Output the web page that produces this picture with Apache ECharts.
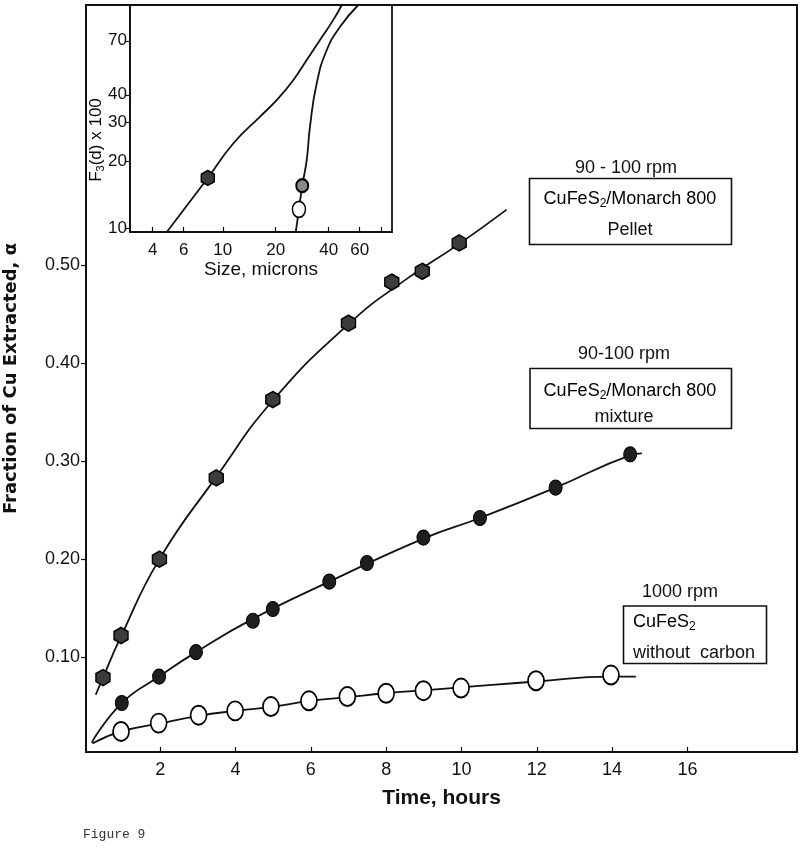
<!DOCTYPE html>
<html><head><meta charset="utf-8">
<script src="https://cdn.jsdelivr.net/npm/echarts@6/dist/echarts.min.js"></script>
<style>html,body{margin:0;padding:0;background:#fff}#c{width:800px;height:850px}</style>
</head><body><div id="c"></div>
<script>
// ---------- Main chart data (Time, hours vs Fraction of Cu extracted) ----------
const pelletTime = [0.48, 0.96, 1.98, 3.49, 4.99, 7.0, 8.15, 8.96, 9.94];
const pelletFrac = [0.079, 0.122, 0.200, 0.283, 0.363, 0.441, 0.483, 0.494, 0.523];
const pelletCurveTime = [0.29, 0.48, 0.96, 1.98, 3.49, 4.99, 7.0, 8.5, 9.94, 11.2];
const pelletCurveFrac = [0.0615, 0.079, 0.121, 0.200, 0.284, 0.362, 0.440, 0.485, 0.522, 0.557];

const mixTime = [0.98, 1.97, 2.95, 4.46, 4.99, 6.49, 7.49, 8.99, 10.49, 12.5, 14.48];
const mixFrac = [0.053, 0.080, 0.105, 0.137, 0.149, 0.177, 0.196, 0.222, 0.242, 0.273, 0.307];
const mixCurveTime = [0.18, 0.98, 1.97, 2.95, 4.46, 6.49, 8.99, 10.49, 12.5, 14.48, 14.79];
const mixCurveFrac = [0.0126, 0.053, 0.080, 0.105, 0.139, 0.177, 0.221, 0.242, 0.273, 0.306, 0.308];

const noCarbonTime = [0.96, 1.96, 3.02, 3.99, 4.94, 5.95, 6.97, 8.0, 8.99, 9.99, 11.98, 13.97];
const noCarbonFrac = [0.024, 0.0325, 0.0406, 0.045, 0.0494, 0.0553, 0.0596, 0.063, 0.0656, 0.0683, 0.0758, 0.0816];
const noCarbonCurveTime = [0.2, 0.96, 1.96, 3.02, 3.99, 4.94, 5.95, 6.97, 8.0, 8.99, 9.99, 11.98, 13.97, 14.63];
const noCarbonCurveFrac = [0.0116, 0.024, 0.032, 0.040, 0.045, 0.049, 0.055, 0.059, 0.063, 0.066, 0.069, 0.075, 0.080, 0.080];

const mainXTicks = [2, 4, 6, 8, 10, 12, 14, 16];
const mainYTicks = [0.10, 0.20, 0.30, 0.40, 0.50];

// ---------- Inset data (Size, microns vs F3(d) x 100, log scales) ----------
const insetPelletCurveSize = [4.81, 8.22, 11.5, 16.3, 20.3, 25.2, 30.0, 35.7, 42.5, 47.5];
const insetPelletCurveF = [9.65, 16.9, 24.2, 31.9, 37.9, 46.6, 57.4, 70.6, 86.9, 101.4];
const insetMixCurveSize = [26.0, 27.1, 28.3, 30.0, 31.3, 34.2, 39.0, 46.4, 58.9];
const insetMixCurveF = [9.65, 12.2, 15.6, 20.3, 28.7, 45.0, 63.6, 80.9, 101.4];
const insetPelletPoint = [[8.22, 16.9]];
const insetMixPoint = [[28.3, 15.6]];
const insetNoCarbonPoint = [[27.1, 12.2]];
const insetXTicks = [4, 6, 10, 20, 40, 60, 80];
const insetXLabels = [4, 6, 10, 20, 40, 60];
const insetYTicks = [10, 20, 30, 40, 70];

// ---------- helpers ----------
const lg = v => Math.log10(v);
const zip = (a, b) => a.map((v, i) => [v, b[i]]);
const zipLog = (a, b) => a.map((v, i) => [lg(v), lg(b[i])]);
const ptsLog = arr => arr.map(p => [lg(p[0]), lg(p[1])]);

const FONT = '"Liberation Sans", Arial, Helvetica, sans-serif';
const NARROW = '"Liberation Sans Narrow", "Liberation Sans", Arial, sans-serif';
const INK = '#111';
const HEX = 'path://M0,-10L8.66,-5L8.66,5L0,10L-8.66,5L-8.66,-5Z';

const richSub = {
  n: {fontSize: 18, fontFamily: FONT, color: INK, lineHeight: 22},
  s: {fontSize: 12, fontFamily: FONT, color: INK, lineHeight: 22, verticalAlign: 'bottom'}
};

const curveStyle = {smooth: 0.5, symbol: 'none', lineStyle: {color: INK, width: 1.8}};

const chart = echarts.init(document.getElementById('c'));
const option = {
  animation: false,
  backgroundColor: '#fff',
  grid: [
    {left: 86, right: 3, top: 5, bottom: 98, containLabel: false, outerBoundsMode: 'none',
      show: true, borderColor: INK, borderWidth: 2, z: 0},
    {left: 130, top: 5, width: 262, height: 227, containLabel: false, outerBoundsMode: 'none',
      show: true, backgroundColor: '#fff', borderColor: INK, borderWidth: 1.8, z: 5}
  ],
  xAxis: [
    {
      gridIndex: 0, type: 'value', min: 0.03, max: 18.91,
      splitLine: {show: false},
      axisLine: {lineStyle: {color: INK, width: 2}},
      axisTick: {inside: true, length: 5, customValues: mainXTicks, lineStyle: {color: INK, width: 1.2}},
      axisLabel: {customValues: mainXTicks, margin: 9, fontSize: 18, color: INK, fontFamily: FONT},
      name: 'Time, hours', nameLocation: 'middle', nameGap: 36,
      nameTextStyle: {fontSize: 21, fontWeight: 'bold', color: INK, fontFamily: NARROW}
    },
    {
      gridIndex: 1, type: 'value', min: lg(2.97), max: lg(91.6), z: 6,
      splitLine: {show: false},
      axisLine: {lineStyle: {color: INK, width: 1.8}},
      axisTick: {inside: true, length: 5, customValues: insetXTicks.map(lg), lineStyle: {color: INK, width: 1.2}},
      axisLabel: {customValues: insetXLabels.map(lg), margin: 10, fontSize: 17, color: INK, fontFamily: FONT,
        formatter: v => String(Math.round(Math.pow(10, v)))},
      name: 'Size, microns', nameLocation: 'middle', nameGap: 25,
      nameTextStyle: {fontSize: 19, color: INK, fontFamily: FONT}
    }
  ],
  yAxis: [
    {
      gridIndex: 0, type: 'value', min: 0.003, max: 0.766,
      splitLine: {show: false},
      axisLine: {lineStyle: {color: INK, width: 2}},
      axisTick: {inside: false, length: 5, customValues: mainYTicks, lineStyle: {color: INK, width: 1.2}},
      axisLabel: {customValues: mainYTicks, margin: 6, fontSize: 18, color: INK, fontFamily: FONT,
        formatter: v => v.toFixed(2)},
      name: 'Fraction of Cu Extracted, α', nameLocation: 'middle', nameGap: 66,
      nameTextStyle: {fontSize: 18, fontWeight: 'bold', color: INK, fontFamily: '"DejaVu Sans", sans-serif'}
    },
    {
      gridIndex: 1, type: 'value', min: lg(9.65), max: lg(101.4), z: 6,
      splitLine: {show: false},
      axisLine: {lineStyle: {color: INK, width: 1.8}},
      axisTick: {inside: false, length: 5, customValues: insetYTicks.map(lg), lineStyle: {color: INK, width: 1.2}},
      axisLabel: {customValues: insetYTicks.map(lg), margin: 3, fontSize: 17, color: INK, fontFamily: FONT,
        formatter: v => String(Math.round(Math.pow(10, v)))}
    }
  ],
  series: [
    Object.assign({type: 'line', xAxisIndex: 0, yAxisIndex: 0, data: zip(pelletCurveTime, pelletCurveFrac), z: 2}, curveStyle),
    {type: 'scatter', xAxisIndex: 0, yAxisIndex: 0, data: zip(pelletTime, pelletFrac), symbol: HEX, symbolSize: [14, 16],
      itemStyle: {color: '#3c3c3c', borderColor: '#000', borderWidth: 1.5, opacity: 1}, z: 3},
    Object.assign({type: 'line', xAxisIndex: 0, yAxisIndex: 0, data: zip(mixCurveTime, mixCurveFrac), z: 2}, curveStyle),
    {type: 'scatter', xAxisIndex: 0, yAxisIndex: 0, data: zip(mixTime, mixFrac), symbol: 'circle', symbolSize: [13, 15],
      itemStyle: {color: '#1e1e1e', borderColor: '#000', borderWidth: 1, opacity: 1}, z: 3},
    Object.assign({type: 'line', xAxisIndex: 0, yAxisIndex: 0, data: zip(noCarbonCurveTime, noCarbonCurveFrac), z: 2}, curveStyle),
    {type: 'scatter', xAxisIndex: 0, yAxisIndex: 0, data: zip(noCarbonTime, noCarbonFrac), symbol: 'circle', symbolSize: [16, 19],
      itemStyle: {color: '#fff', borderColor: '#000', borderWidth: 1.8, opacity: 1}, z: 3},
    // inset
    Object.assign({type: 'line', xAxisIndex: 1, yAxisIndex: 1, data: zipLog(insetPelletCurveSize, insetPelletCurveF), z: 7, clip: true}, curveStyle),
    Object.assign({type: 'line', xAxisIndex: 1, yAxisIndex: 1, data: zipLog(insetMixCurveSize, insetMixCurveF), z: 7, clip: true}, curveStyle),
    {type: 'scatter', xAxisIndex: 1, yAxisIndex: 1, data: ptsLog(insetPelletPoint), symbol: HEX, symbolSize: [13, 15],
      itemStyle: {color: '#3c3c3c', borderColor: '#000', borderWidth: 1.5, opacity: 1}, z: 8},
    {type: 'scatter', xAxisIndex: 1, yAxisIndex: 1, data: ptsLog(insetMixPoint), symbol: 'circle', symbolSize: [12, 13],
      itemStyle: {color: '#8a8a8a', borderColor: '#000', borderWidth: 2, opacity: 1}, z: 8},
    {type: 'scatter', xAxisIndex: 1, yAxisIndex: 1, data: ptsLog(insetNoCarbonPoint), symbol: 'circle', symbolSize: [13, 16],
      itemStyle: {color: '#fff', borderColor: '#000', borderWidth: 1.6, opacity: 1}, z: 8}
  ],
  graphic: [
    // inset y-axis name
    {type: 'text', x: 96, y: 140, rotation: Math.PI / 2, z: 20,
      style: {text: '{n|F}{s|3}{n|(d) x 100}', rich: {
        n: {fontSize: 17, fontFamily: FONT, color: INK, lineHeight: 20},
        s: {fontSize: 11, fontFamily: FONT, color: INK, lineHeight: 20, verticalAlign: 'bottom'}},
        align: 'center', verticalAlign: 'middle'}},
    // Pellet annotation
    {type: 'text', x: 626, y: 168, z: 20, style: {text: '90 - 100 rpm', fontSize: 18, fontFamily: FONT, fill: INK, align: 'center', verticalAlign: 'middle'}},
    {type: 'rect', z: 20, shape: {x: 529.5, y: 178.5, width: 202, height: 66}, style: {fill: 'none', stroke: INK, lineWidth: 1.6}},
    {type: 'text', x: 630, y: 199, z: 20, style: {text: '{n|CuFeS}{s|2}{n|/Monarch 800}', rich: richSub, align: 'center', verticalAlign: 'middle'}},
    {type: 'text', x: 630, y: 230, z: 20, style: {text: 'Pellet', fontSize: 18, fontFamily: FONT, fill: INK, align: 'center', verticalAlign: 'middle'}},
    // Mixture annotation
    {type: 'text', x: 624, y: 354, z: 20, style: {text: '90-100 rpm', fontSize: 18, fontFamily: FONT, fill: INK, align: 'center', verticalAlign: 'middle'}},
    {type: 'rect', z: 20, shape: {x: 530, y: 368.5, width: 201.5, height: 60}, style: {fill: 'none', stroke: INK, lineWidth: 1.6}},
    {type: 'text', x: 630, y: 391, z: 20, style: {text: '{n|CuFeS}{s|2}{n|/Monarch 800}', rich: richSub, align: 'center', verticalAlign: 'middle'}},
    {type: 'text', x: 624, y: 417, z: 20, style: {text: 'mixture', fontSize: 18, fontFamily: FONT, fill: INK, align: 'center', verticalAlign: 'middle'}},
    // Without carbon annotation
    {type: 'text', x: 680, y: 592, z: 20, style: {text: '1000 rpm', fontSize: 18, fontFamily: FONT, fill: INK, align: 'center', verticalAlign: 'middle'}},
    {type: 'rect', z: 20, shape: {x: 623.5, y: 606, width: 143, height: 57.5}, style: {fill: 'none', stroke: INK, lineWidth: 1.6}},
    {type: 'text', x: 633, y: 622, z: 20, style: {text: '{n|CuFeS}{s|2}', rich: richSub, align: 'left', verticalAlign: 'middle'}},
    {type: 'text', x: 633, y: 653, z: 20, style: {text: 'without  carbon', fontSize: 18, fontFamily: FONT, fill: INK, align: 'left', verticalAlign: 'middle'}},
    // Figure caption
    {type: 'text', x: 83, y: 835, z: 20, style: {text: 'Figure 9', fontSize: 13, fontFamily: '"Liberation Mono", "DejaVu Sans Mono", monospace', fill: '#333', align: 'left', verticalAlign: 'middle'}}
  ]
};
chart.setOption(option);
</script>
</body></html>
